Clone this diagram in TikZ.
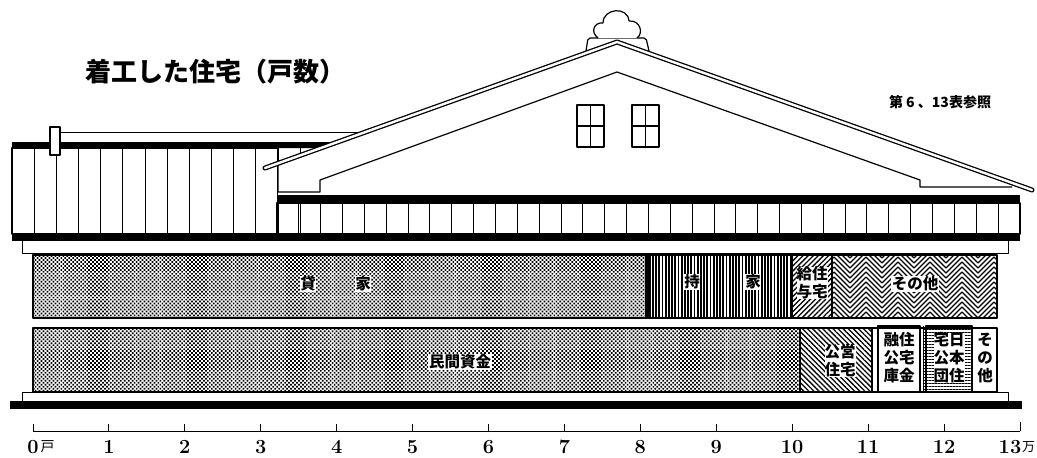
\documentclass[tikz,border=0pt]{standalone}
\usepackage{fontspec}
\newfontfamily\jp{Noto Sans CJK JP}
\usetikzlibrary{patterns.meta, decorations.pathmorphing, positioning}

\tikzset{
  lbl/.style={font=\jp\bfseries\fontsize{15.5}{18}\selectfont, fill=white, inner sep=0.6pt, align=center},
  num/.style={font=\bfseries\fontsize{20}{20}\selectfont, inner sep=0pt},
  dotfill/.style={pattern={Dots[distance=2.8pt, radius=1.2pt, angle=45]}},
  zig/.style={line width=1.1pt, decorate, decoration={zigzag, segment length=32pt, amplitude=8pt}},
  roof/.style={line width=1.3pt, double=white, double distance=2.4pt, line cap=round}
}

\begin{document}
\begin{tikzpicture}[x=1pt, y=-1pt, line join=round]
\useasboundingbox (0,0) rectangle (1037,458);

% titles
\node[font=\jp\bfseries\fontsize{26}{26}\selectfont] (title) at (215,72) {着工した住宅（戸数）};
\node[font=\jp\bfseries\fontsize{14}{14}\selectfont] (note) at (940,102) {第 6 、13表参照};

% left wing
\draw[line width=1pt] (58,132) -- (366,132);
\fill (12,142) -- (338,142) -- (321,148) -- (12,148) -- cycle;
\draw[line width=1.2pt] (12,148) rectangle (278,234);
\foreach \i in {1,...,13}
  \draw[line width=1pt] (12+22.17*\i,148) -- (12+22.17*\i,234);

% gable
\fill[white] (278,163) -- (617,42) -- (1030,190) -- (1030,195) -- (278,195) -- cycle;
\draw[line width=1.2pt] (278,163) -- (278,192) -- (320,192) -- (320,180) -- (617,72)
  -- (920,180) -- (920,187) -- (1012,187);
\draw[line width=1.2pt, fill=white, rounded corners=2pt] (586,51) -- (588,38) -- (646,38) -- (649,51);
\draw[line width=1.2pt, fill=white] (598,38) .. controls (590,32) and (594,22) .. (603,23)
  .. controls (603,8) and (628,6) .. (629,21) .. controls (640,20) and (644,33) .. (637,38);
\draw[roof] (265,168) -- (617,42) -- (1032,190);
\foreach \x in {577,632} {
  \draw[line width=1.8pt] (\x,105) rectangle (\x+27,147);
  \draw[line width=1.8pt] (\x+13.5,105) -- (\x+13.5,147) (\x,126) -- (\x+27,126);
}

% chimney post
\draw[line width=1.2pt, fill=white] (50,127) rectangle (60,155);

% eaves
\fill (277,195) rectangle (1020,203);
\draw[line width=1.2pt] (277,203) rectangle (1020,234);
\foreach \i in {1,...,33}
  \draw[line width=1pt] (277+21.85*\i,203) -- (277+21.85*\i,234);
\fill (12,234) rectangle (1020,241);
\draw[line width=1pt] (22,241) -- (22,253) -- (1008,253) -- (1008,241);

% upper bar
\fill[dotfill] (33,255) rectangle (647,318);
\fill[pattern={Lines[angle=90, distance=3.2pt, line width=1.8pt]}] (647,255) rectangle (791,318);
\fill[pattern={Lines[angle=45, distance=3.6pt, line width=1.3pt]}] (791,255) rectangle (832,318);
\begin{scope}
  \clip (832,255) rectangle (997,318);
  \foreach \k in {0,...,18}
    \draw[zig] (826,240+5*\k) -- (1010,240+5*\k);
\end{scope}
\draw[line width=1.6pt] (33,255) rectangle (997,318);
\draw[line width=4pt] (647,255) -- (647,318);
\draw[line width=3pt] (791,255) -- (791,318);
\draw[line width=2pt] (832,255) -- (832,318);

% lower bar
\fill[dotfill] (33,328) rectangle (800,392);
\fill[pattern={Lines[angle=-45, distance=3.6pt, line width=1.3pt]}] (800,328) rectangle (872,392);
\fill[pattern={Lines[angle=0, distance=3pt, line width=0.7pt]}] (924,328) rectangle (972,392);
\draw[line width=1.6pt] (33,328) rectangle (997,392);
\draw[line width=2.4pt] (800,328) -- (800,392);
\draw[line width=1.4pt] (872,328) -- (872,392);
\draw[line width=1.4pt] (878,326) rectangle (920,392);
\draw[line width=1pt] (923,326) -- (923,392);
\draw[line width=1.4pt] (926,326) rectangle (972,392);

% labels
\node[lbl] (kashi1) at (308,284) {貸};
\node[lbl] (kashi2) at (363,284) {家};
\node[lbl] (mochi1) at (692,282) {持};
\node[lbl] (mochi2) at (753,282) {家};
\node[lbl, inner sep=0pt] (kyuyo) at (812,283) {給住\\与宅};
\node[lbl] (sonota1) at (915,284) {その他};
\node[lbl] (minkan) at (460,362) {民間資金};
\node[lbl, inner sep=0pt] (koei) at (840,361) {公営\\住宅};
\node[lbl, inner sep=0pt] (koko) at (899,358) {融住\\公宅\\庫金};
\node[lbl, inner sep=0pt] (kodan) at (949,358) {宅日\\公本\\団住};
\node[lbl, inner sep=0pt] (sonota2) at (985,358) {そ\\の\\他};

% base
\draw[line width=1pt] (22,392) rectangle (1008,401);
\fill (10,401) rectangle (1022,409);

% scale
\draw[line width=1pt] (33,431) -- (1020,431);
\foreach \i in {0,...,12} {
  \draw[line width=1pt] (33+75.92*\i,431) -- (33+75.92*\i,424);
  \node[num] (n\i) at (33+75.92*\i,447) {\i};
}
\draw[line width=1pt] (1020,431) -- (1020,422);
\node[num] (n13) at (1010,447) {13};
\node[font=\jp\fontsize{14}{14}\selectfont, inner sep=0.5pt, right=1pt of n0] (ko) {戸};
\node[font=\jp\fontsize{13}{13}\selectfont, inner sep=0pt, right=0.5pt of n13] (man) {万};
\end{tikzpicture}
\end{document}
